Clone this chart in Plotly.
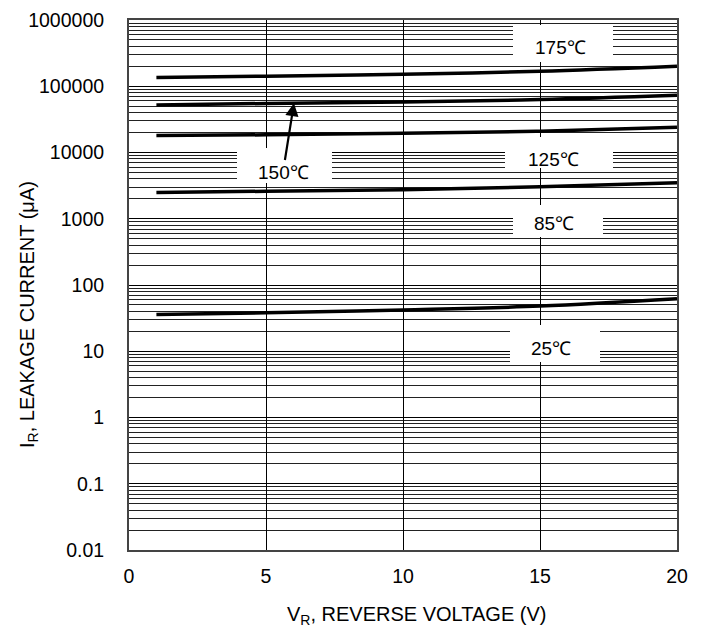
import plotly.graph_objects as go

# ---- data ----
voltage = [1, 5, 10, 15, 20]
i_175 = [135000, 142000, 152000, 168000, 200000]
i_150 = [52000, 55000, 58000, 63000, 73000]
i_125 = [18000, 18500, 19500, 21000, 24000]
i_85 = [2500, 2600, 2750, 3050, 3500]
i_25 = [36, 38, 42, 48, 62]

y_tickvals = [0.01, 0.1, 1, 10, 100, 1000, 10000, 100000, 1000000]
y_ticktext = ["0.01", "0.1", "1", "10", "100", "1000", "10000", "100000", "1000000"]
x_tickvals = [0, 5, 10, 15, 20]
x_ticktext = ["0", "5", "10", "15", "20"]

labels = ["175℃", "150℃", "125℃", "85℃", "25℃"]
x_title = "V<sub>R</sub>, REVERSE VOLTAGE (V)"
y_title = "I<sub>R</sub>, LEAKAGE CURRENT (μA)"

FONT = "Liberation Sans, Arial, sans-serif"
OFF = 8  # page body margin
W, H = 704 - OFF, 629 - OFF
# target plot area in screen pixels
SL, SR, ST, SB = 129, 677, 20, 550
L, R, T, B = SL - OFF, SR - OFF, ST - OFF, SB - OFF


def px(x):
    return (x - SL) / (SR - SL)


def py(y):
    return (SB - y) / (SB - ST)


fig = go.Figure()
for ys in [i_175, i_150, i_125, i_85, i_25]:
    fig.add_trace(go.Scatter(x=voltage, y=ys, mode="lines",
                             line=dict(color="black", width=3.5, shape="spline"),
                             showlegend=False, hoverinfo="skip"))

minor_vals = [m * 10 ** e for e in range(-2, 6) for m in range(2, 10)]

# white label boxes (screen pixel positions)
boxes = [(513, 25, 613, 62), (237, 148, 332, 183), (505, 137, 613, 168),
         (513, 205, 603, 237), (510, 325, 600, 362)]
shapes = []
for x0, y0, x1, y1 in boxes:
    shapes.append(dict(type="rect", xref="paper", yref="paper",
                       x0=px(x0), x1=px(x1), y0=py(y1), y1=py(y0),
                       fillcolor="white", line=dict(width=0), layer="above"))

text_pos = [(560, 48), (283, 172), (553, 159), (554, 223), (551, 348)]
annotations = []
for i, (lab, (tx, ty)) in enumerate(zip(labels, text_pos)):
    if i == 1:
        tipx, tipy = 294, 103
        annotations.append(dict(text=lab, xref="paper", yref="paper",
                                x=px(tipx), y=py(tipy), ax=tx - tipx, ay=ty - tipy,
                                showarrow=True, arrowhead=2, arrowsize=1.2,
                                arrowwidth=2.2, arrowcolor="black", standoff=0,
                                startstandoff=0,
                                font=dict(family=FONT, size=19, color="black")))
    else:
        annotations.append(dict(text=lab, xref="paper", yref="paper",
                                x=px(tx), y=py(ty), xanchor="center", yanchor="middle",
                                showarrow=False,
                                font=dict(family=FONT, size=19, color="black")))

annotations.append(dict(text=x_title, xref="paper", yref="paper",
                        x=px(416), y=py(615), xanchor="center", yanchor="middle",
                        showarrow=False, font=dict(family=FONT, size=20, color="black")))
annotations.append(dict(text=y_title, xref="paper", yref="paper",
                        x=px(28), y=py(315), xanchor="center", yanchor="middle",
                        textangle=-90, showarrow=False,
                        font=dict(family=FONT, size=20, color="black")))

fig.update_layout(
    width=W, height=H,
    margin=dict(l=L, r=W - R, t=T, b=H - B, autoexpand=False),
    paper_bgcolor="white", plot_bgcolor="white",
    font=dict(family=FONT, size=19.5, color="black"),
    shapes=shapes, annotations=annotations,
    xaxis=dict(range=[0, 20], tickvals=x_tickvals, ticktext=x_ticktext,
               showgrid=True, gridcolor="black", gridwidth=1,
               showline=True, linecolor="#444", linewidth=2, mirror=True,
               ticks="", ticklabelstandoff=8, zeroline=False, automargin=False),
    yaxis=dict(type="log", range=[-2, 6], tickvals=y_tickvals, ticktext=y_ticktext,
               showgrid=True, gridcolor="black", gridwidth=1,
               minor=dict(tickvals=minor_vals, showgrid=True, gridcolor="#222",
                          gridwidth=1, ticks=""),
               showline=True, linecolor="#444", linewidth=2, mirror=True,
               ticks="", ticklabelstandoff=19, zeroline=False, automargin=False),
)

fig.write_html("out.html")
